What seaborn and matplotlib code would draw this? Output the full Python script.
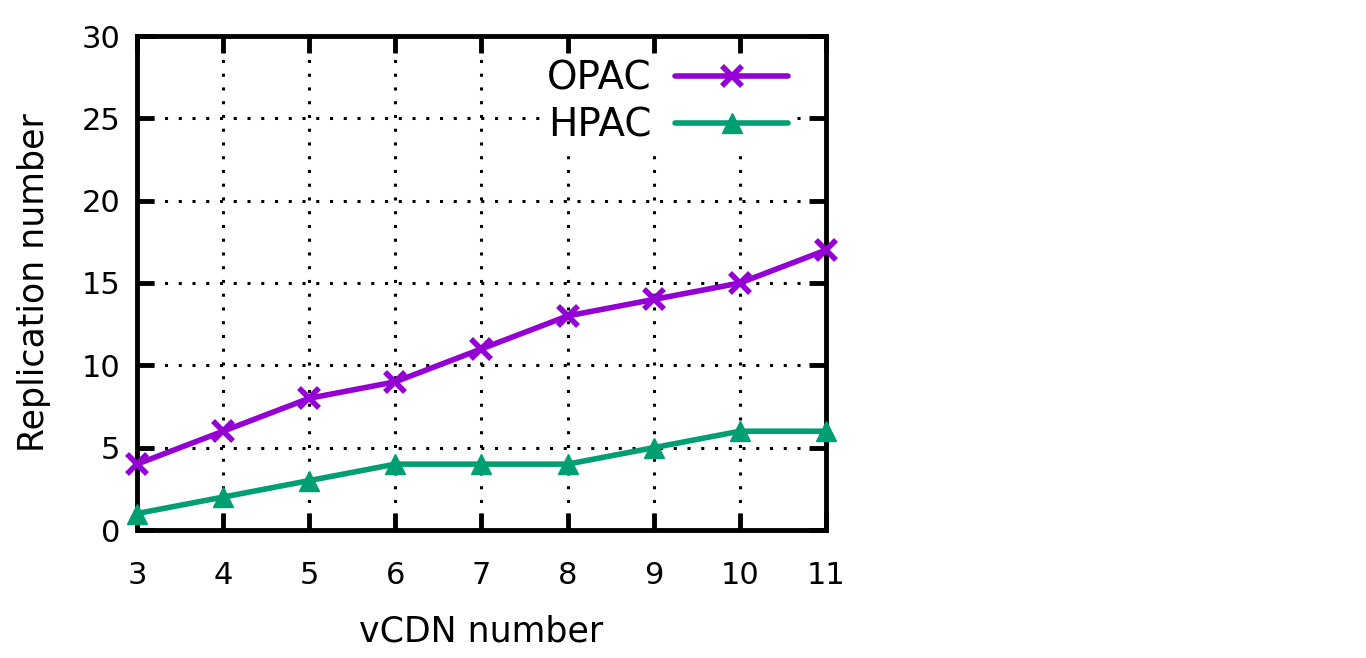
import pandas as pd
import matplotlib
matplotlib.use("Agg")
import matplotlib.pyplot as plt
import seaborn as sns

# ------------------------------
# Data
# ------------------------------
vcdn = [3, 4, 5, 6, 7, 8, 9, 10, 11]
opac = [4, 6, 8, 9, 11, 13, 14, 15, 17]
hpac = [1, 2, 3, 4, 4, 4, 5, 6, 6]

data = pd.DataFrame({
    "vCDN": vcdn * 2,
    "Replication": opac + hpac,
    "Method": ["OPAC"] * len(vcdn) + ["HPAC"] * len(vcdn),
})

# ------------------------------
# Style
# ------------------------------
sns.set_style("white")
plt.rcParams['font.family'] = ['DejaVu Sans']
plt.rcParams['text.color'] = 'black'
plt.rcParams['axes.labelcolor'] = 'black'
plt.rcParams['xtick.color'] = 'black'
plt.rcParams['ytick.color'] = 'black'

fig = plt.figure(figsize=(13.66, 6.58), dpi=100)
ax = fig.add_axes([137 / 1366, 1 - 530 / 658, (826 - 137) / 1366, (530 - 36) / 658])

colors = {"OPAC": "#9400D3", "HPAC": "#009E73"}

for name in ["OPAC", "HPAC"]:
    sub = data[data["Method"] == name]
    sns.lineplot(data=sub, x="vCDN", y="Replication", ax=ax, color=colors[name],
                 linewidth=4, label=name, marker="x" if name == "OPAC" else "^",
                 markersize=15,
                 markeredgewidth=4 if name == "OPAC" else 1,
                 markeredgecolor=colors[name], clip_on=False, zorder=5)

ax.set_xlim(3, 11)
ax.set_ylim(0, 30)
ax.set_xticks(vcdn)
ax.set_yticks(range(0, 31, 5))
ax.grid(True, color="black", linestyle=(0, (1, 3.5)), linewidth=2.2)
for s in ax.spines.values():
    s.set_linewidth(3.5)
    s.set_color("black")
ax.tick_params(direction="in", length=12, width=3.5, labelsize=22, pad=12,
               top=True, right=True, bottom=True, left=True)
ax.tick_params(axis="x", pad=22)

ax.set_xlabel("vCDN number", fontsize=25, labelpad=18)
ax.set_ylabel("Replication number", fontsize=25, labelpad=22)

# opaque key, like gnuplot "key opaque"
leg = ax.legend(loc="upper right", frameon=True, fontsize=28, markerfirst=False,
                handlelength=2.9, handletextpad=0.6, labelspacing=0.22,
                borderaxespad=0, borderpad=0.1, fancybox=False,
                facecolor="white", edgecolor="white", framealpha=1,
                bbox_to_anchor=((792 - 137) / 689, (530 - 56) / 494))

fig.savefig("out.png", dpi=100)
